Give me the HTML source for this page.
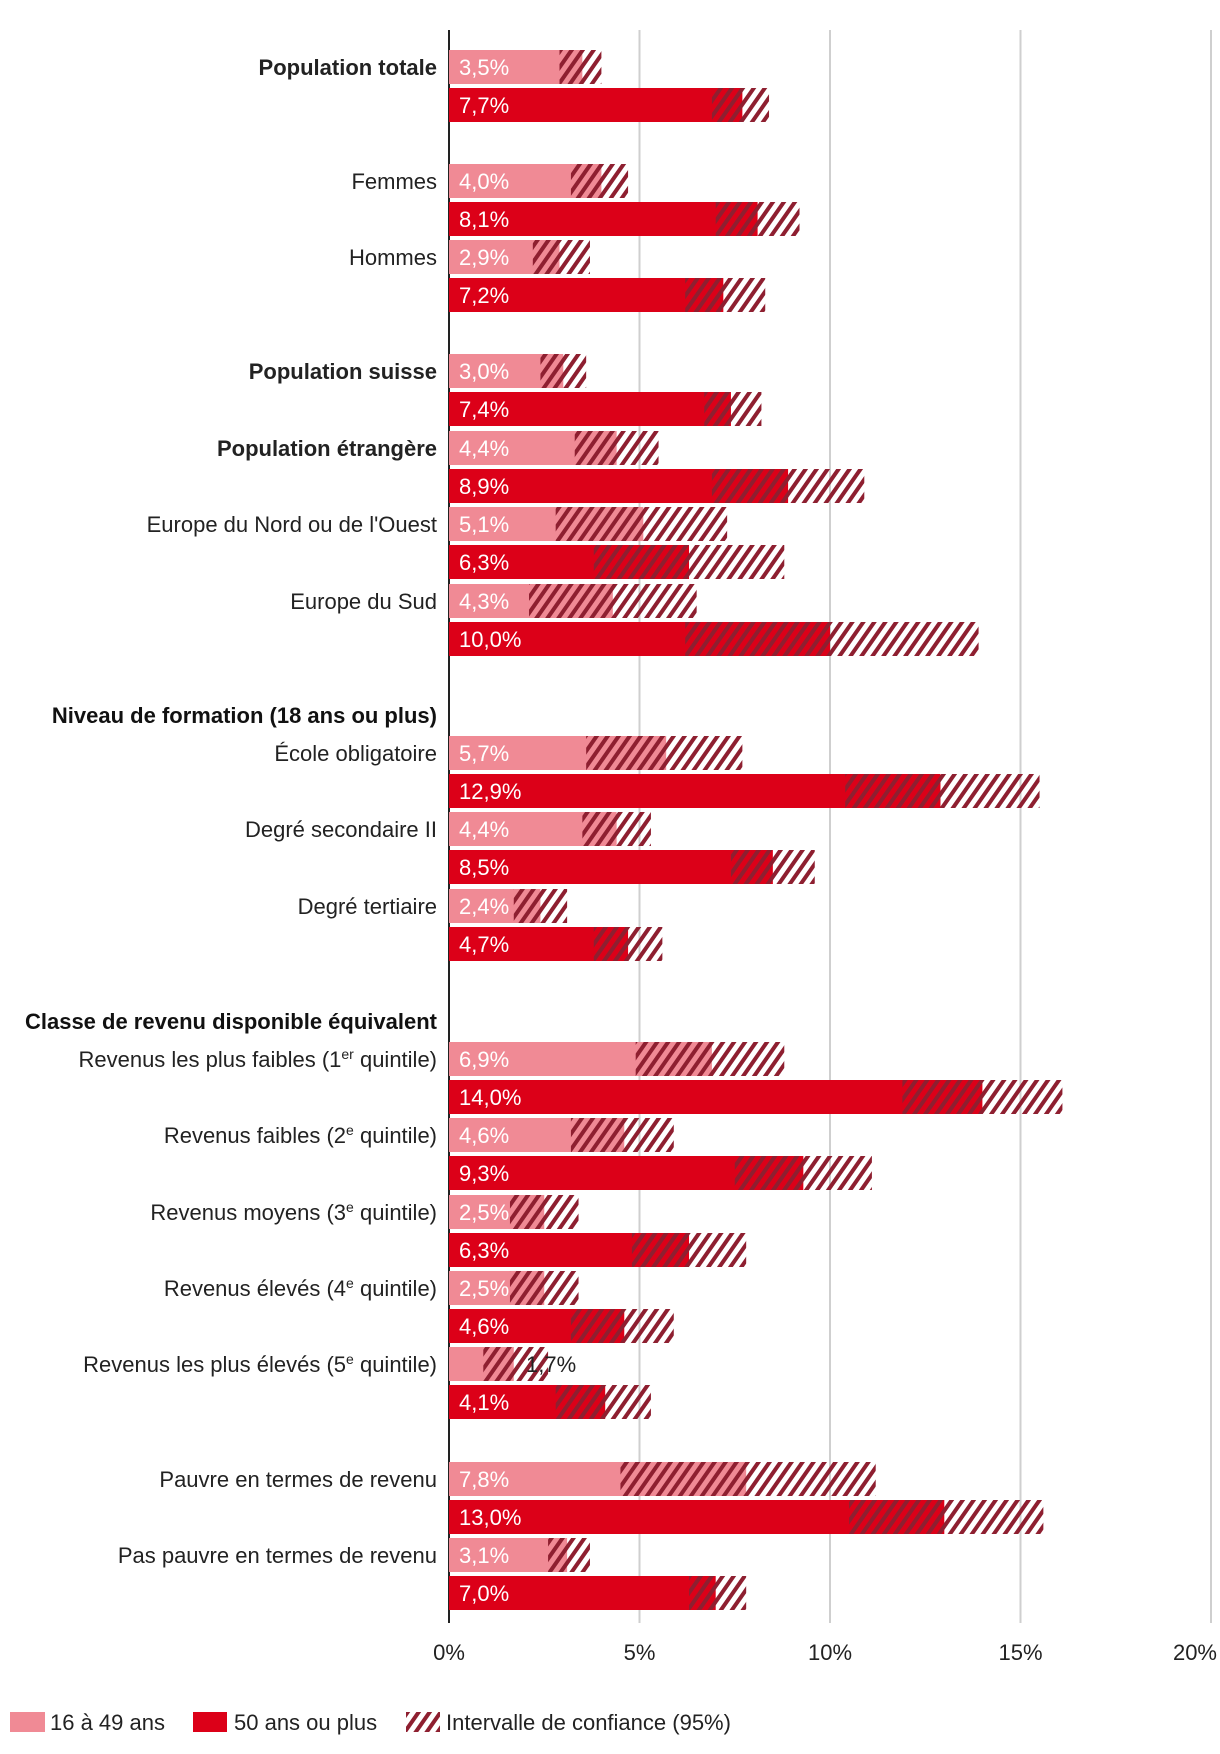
<!DOCTYPE html>
<html><head><meta charset="utf-8"><style>
html,body{margin:0;padding:0;background:#fff}
svg{display:block;font-family:"Liberation Sans",sans-serif}
</style></head><body>
<svg id="chart" width="1220" height="1754" viewBox="0 0 1220 1754" xmlns="http://www.w3.org/2000/svg">
<defs>
<pattern id="hatch" patternUnits="userSpaceOnUse" width="9" height="9" patternTransform="rotate(35)">
<rect x="0" y="0" width="4" height="9" fill="#8e1f30"/>
</pattern>
</defs>
<g id="grid"></g>
<g id="bars"></g>
<g id="labels"></g>
<g id="legend">
<rect x="10" y="1712" width="35" height="20" fill="#f08a95"/>
<text x="50" y="1730" font-size="22" fill="#222">16 à 49 ans</text>
<rect x="193" y="1712" width="34" height="20" fill="#dc0018"/>
<text x="234" y="1730" font-size="22" fill="#222">50 ans ou plus</text>
<rect x="406" y="1712" width="34" height="20" fill="url(#hatch)"/>
<text x="446" y="1730" font-size="22" fill="#222">Intervalle de confiance (95%)</text>
</g>
</svg>
<script>
const categories = ["Population totale","Femmes","Hommes","Population suisse","Population étrangère","Europe du Nord ou de l'Ouest","Europe du Sud","École obligatoire","Degré secondaire II","Degré tertiaire","Revenus les plus faibles (1er quintile)","Revenus faibles (2e quintile)","Revenus moyens (3e quintile)","Revenus élevés (4e quintile)","Revenus les plus élevés (5e quintile)","Pauvre en termes de revenu","Pas pauvre en termes de revenu"];
const boldCats = ["Population totale","Population suisse","Population étrangère"];
const young = [3.5,4.0,2.9,3.0,4.4,5.1,4.3,5.7,4.4,2.4,6.9,4.6,2.5,2.5,1.7,7.8,3.1];
const youngLo = [2.9,3.2,2.2,2.4,3.3,2.8,2.1,3.6,3.5,1.7,4.9,3.2,1.6,1.6,0.9,4.5,2.6];
const youngHi = [4.0,4.7,3.7,3.6,5.5,7.3,6.5,7.7,5.3,3.1,8.8,5.9,3.4,3.4,2.6,11.2,3.7];
const old = [7.7,8.1,7.2,7.4,8.9,6.3,10.0,12.9,8.5,4.7,14.0,9.3,6.3,4.6,4.1,13.0,7.0];
const oldLo = [6.9,7.0,6.2,6.7,6.9,3.8,6.2,10.4,7.4,3.8,11.9,7.5,4.8,3.2,2.8,10.5,6.3];
const oldHi = [8.4,9.2,8.3,8.2,10.9,8.8,13.9,15.5,9.6,5.6,16.1,11.1,7.8,5.9,5.3,15.6,7.8];
const ticks = [0,5,10,15,20];
const tickLabels = ["0%","5%","10%","15%","20%"];
const headers = ["Niveau de formation (18 ans ou plus)","Classe de revenu disponible équivalent"];

const NS="http://www.w3.org/2000/svg";
const x0=449, pxPer=38.1;
const xs=v=>x0+v*pxPer;
const rowY=[50,164,240,354,431,507,584,736,812,889,1042,1118,1195,1271,1347,1462,1538];
const headerY=[715,1021];
const BH=34;
function mk(tag,attrs,parent){const e=document.createElementNS(NS,tag);for(const k in attrs)e.setAttribute(k,attrs[k]);parent.appendChild(e);return e;}
const grid=document.getElementById('grid'),bars=document.getElementById('bars'),labels=document.getElementById('labels');
const fmt=v=>v.toFixed(1).replace('.',',')+'%';
ticks.forEach((t,i)=>{
  if(t>0){const l=mk('line',{x1:xs(t),x2:xs(t),y1:30,y2:1623,stroke:'#cfcfcf','stroke-width':2},grid);
  
  }
  const last=i===ticks.length-1;
  const tx=mk('text',{x:last?1217:xs(t),y:1660,'font-size':22,'text-anchor':last?'end':'middle',fill:'#222'},labels);
  tx.textContent=tickLabels[i];
  
  
});
const ax=mk('line',{x1:x0,x2:x0,y1:30,y2:1623,stroke:'#222','stroke-width':2},grid);



function drawBar(y,v,lo,hi,color,name){
  const r=mk('rect',{x:x0,y:y,width:xs(v)-x0,height:BH,fill:color},bars);
  
  
  const c=mk('rect',{x:xs(lo),y:y,width:xs(hi)-xs(lo),height:BH,fill:'url(#hatch)'},bars);
  
  
}
categories.forEach((c,i)=>{
  const y=rowY[i];
  drawBar(y,young[i],youngLo[i],youngHi[i],'#f08a95','bar-16-49');
  drawBar(y+38,old[i],oldLo[i],oldHi[i],'#dc0018','bar-50-plus');
  const small=young[i]<2;
  const t1=mk('text',{x:small?526:459,y:y+25,'font-size':22,fill:small?'#222':'#fff'},labels);
  t1.textContent=fmt(young[i]);
  
  
  const t2=mk('text',{x:459,y:y+63,'font-size':22,fill:'#fff'},labels);
  t2.textContent=fmt(old[i]);
  
  
  const cl=mk('text',{x:437,y:y+25,'font-size':22,'text-anchor':'end',fill:'#222','font-weight':boldCats.includes(c)?'bold':'normal'},labels);
  const m=c.match(/^(.*\(\d)(er|e)( quintile\))$/);
  if(m){cl.appendChild(document.createTextNode(m[1]));const s=mk('tspan',{'font-size':14,dy:-8},cl);s.textContent=m[2];const r=mk('tspan',{dy:8},cl);r.textContent=m[3];}
  else cl.textContent=c;
  
  
});
headers.forEach((h,i)=>{
  const t=mk('text',{x:437,y:headerY[i]+8,'font-size':22,'text-anchor':'end','font-weight':'bold',fill:'#111'},labels);
  t.textContent=h;
  
  
});
</script>
</body></html>
